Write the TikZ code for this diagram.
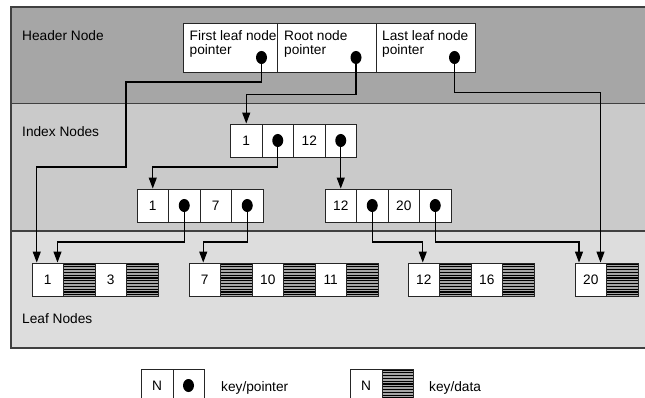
\documentclass[tikz,border=0pt]{standalone}
\usepackage{fontspec}
\setmainfont{Liberation Sans}
\usetikzlibrary{arrows.meta,shapes.geometric,calc}
\newcommand\dgfont{\fontsize{13.7}{13.6}\selectfont}
\definecolor{hdrgray}{RGB}{166,166,166}
\definecolor{idxgray}{RGB}{202,202,202}
\definecolor{leafgray}{RGB}{221,221,221}
\begin{document}
\begin{tikzpicture}[x=1pt,y=-1pt,
  band/.style={draw=black!75,line width=1.2pt},
  lbl/.style={anchor=base west,inner sep=0pt,font=\dgfont},
  hcell/.style={draw=black!85,line width=0.9pt,fill=white,minimum height=49pt,inner sep=0pt},
  cell/.style={draw=black!85,line width=0.9pt,fill=white,minimum width=31.5pt,minimum height=33pt,inner sep=0pt,font=\dgfont},
  hatchcell/.style={cell,fill=black!35,path picture={
    \foreach \k in {0,...,11}{
      \draw[black,line width=1.25pt]
        ([yshift=-\k*2.8pt-1pt]path picture bounding box.north west) --
        ([yshift=-\k*2.8pt-1pt]path picture bounding box.north east);
    }}},
  ptdot/.style={ellipse,fill=black,minimum width=11pt,minimum height=13pt,inner sep=0pt},
  arr/.style={draw=black,line width=1.1pt,-{Triangle[length=11pt,width=8pt]}}]
\clip (0,0) rectangle (645,398);
\fill[white] (0,0) rectangle (645,398);
% bands
\draw[band,fill=hdrgray] (11,7) rectangle (660,103.5);
\draw[band,fill=idxgray] (11,103.5) rectangle (660,231);
\draw[band,fill=leafgray] (11,231) rectangle (660,348);
\node[lbl] (tHeader) at (22,40.6) {Header Node};
\node[lbl] (tIndex) at (22,137) {Index Nodes};
\node[lbl] (tLeaf) at (22,323) {Leaf Nodes};
% header node
\node[hcell,minimum width=94pt] (hc1) at (230,47.5) {};
\node[hcell,minimum width=99pt] (hc2) at (326.5,47.5) {};
\node[hcell,minimum width=99pt] (hc3) at (425.5,47.5) {};
\node[lbl] (t1a) at (189.5,40.7) {First leaf node};
\node[lbl] (t1b) at (189.5,54.3) {pointer};
\node[lbl] (t2a) at (284,40.7) {Root node};
\node[lbl] (t2b) at (284,54.3) {pointer};
\node[lbl] (t3a) at (382,40.7) {Last leaf node};
\node[lbl] (t3b) at (382,54.3) {pointer};
% root index node
\node[cell] (r1) at (246.25,140.5) {1};
\node[cell] (r2) at (277.75,140.5) {};
\node[cell] (r3) at (309.25,140.5) {12};
\node[cell] (r4) at (340.75,140.5) {};
% left index node
\node[cell] (l1) at (152.75,205.5) {1};
\node[cell] (l2) at (184.25,205.5) {};
\node[cell] (l3) at (215.75,205.5) {7};
\node[cell] (l4) at (247.25,205.5) {};
% right index node
\node[cell] (q1) at (340.75,205.5) {12};
\node[cell] (q2) at (372.25,205.5) {};
\node[cell] (q3) at (403.75,205.5) {20};
\node[cell] (q4) at (435.25,205.5) {};
% leaf nodes
\node[cell] (a1) at (47.75,279.5) {1};
\node[hatchcell] (a2) at (79.25,279.5) {};
\node[cell] (a3) at (110.75,279.5) {3};
\node[hatchcell] (a4) at (142.25,279.5) {};
\node[cell] (b1) at (204.75,279.5) {7};
\node[hatchcell] (b2) at (236.25,279.5) {};
\node[cell] (b3) at (267.75,279.5) {10};
\node[hatchcell] (b4) at (299.25,279.5) {};
\node[cell] (b5) at (330.75,279.5) {11};
\node[hatchcell] (b6) at (362.25,279.5) {};
\node[cell] (c1) at (423.75,279.5) {12};
\node[hatchcell] (c2) at (455.25,279.5) {};
\node[cell] (c3) at (486.75,279.5) {16};
\node[hatchcell] (c4) at (518.25,279.5) {};
\node[cell] (d1) at (590.75,279.5) {20};
\node[hatchcell] (d2) at (622.25,279.5) {};
% pointer anchors (dot positions)
\coordinate (hdA) at (261.5,57.5);
\coordinate (hdB) at (356,57.5);
\coordinate (hdC) at (454.5,57.5);
\coordinate (rd1) at (r2);
\coordinate (rd2) at (r4);
\coordinate (ld1) at (l2);
\coordinate (ld2) at (l4);
\coordinate (qd1) at (q2);
\coordinate (qd2) at (q4);
% bend coordinates
\coordinate (kA) at (126,82);
\coordinate (kB) at (36.75,167);
\coordinate (kC) at (600.5,92.5);
% connectors
\draw[arr] (hdA) |- (kA) |- (kB) -- (kB |- a1.north);
\draw[arr] (hdB) -- ++(0,37) -| (r1.north);
\draw[arr] (hdC) |- (kC) -- (kC |- d1.north);
\draw[arr] (rd1) -- ++(0,26.5) -| (l1.north);
\draw[arr] (rd2) -- (q1.north);
\draw[arr] (ld1) -- ++(0,36.5) -| ([xshift=9.75pt]a1.north);
\draw[arr] (ld2) -- ++(0,36.5) -| ([xshift=-1.5pt]b1.north);
\draw[arr] (qd1) -- ++(0,36.5) -| ([xshift=-1pt]c1.north);
\draw[arr] (qd2) -- ++(0,36.5) -| ([xshift=-11.75pt]d1.north);
% dots on top
\node[ptdot] (dA) at (hdA) {};
\node[ptdot] (dB) at (hdB) {};
\node[ptdot] (dC) at (hdC) {};
\node[ptdot] (dR1) at (rd1) {};
\node[ptdot] (dR2) at (rd2) {};
\node[ptdot] (dL1) at (ld1) {};
\node[ptdot] (dL2) at (ld2) {};
\node[ptdot] (dQ1) at (qd1) {};
\node[ptdot] (dQ2) at (qd2) {};
% legend
\node[cell,minimum width=32pt] (kn1) at (157,385.5) {N};
\node[cell,minimum width=31pt] (kp1) at (188.5,385.5) {};
\node[ptdot] (kd1) at (kp1) {};
\node[lbl] (kt1) at (221,391.7) {key/pointer};
\node[cell,minimum width=32pt] (kn2) at (366,385.5) {N};
\node[hatchcell,minimum width=31pt] (kh2) at (397.5,385.5) {};
\node[lbl] (kt2) at (429,391.7) {key/data};
\end{tikzpicture}
\end{document}
